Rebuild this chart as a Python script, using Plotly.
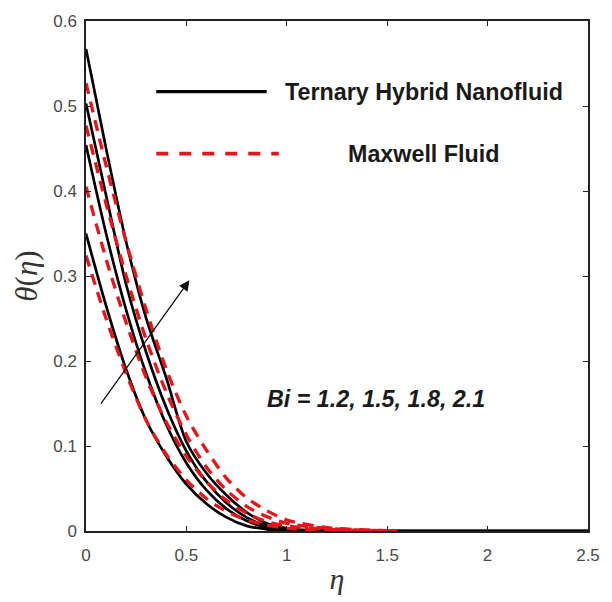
import plotly.graph_objects as go

eta = [0, 0.1, 0.2, 0.3, 0.4, 0.5, 0.6, 0.7, 0.8, 0.9, 1.0, 1.2, 1.5, 2.0, 2.5]

# Ternary hybrid nanofluid (solid black), Bi = 1.2, 1.5, 1.8, 2.1
thnf_bi12 = [0.350, 0.265, 0.190, 0.130, 0.088, 0.055, 0.032, 0.016, 0.006, 0.002, 0.000, 0.0, 0.0, 0.0, 0.0]
thnf_bi15 = [0.454, 0.350, 0.260, 0.185, 0.125, 0.080, 0.048, 0.026, 0.012, 0.004, 0.001, 0.0, 0.0, 0.0, 0.0]
thnf_bi18 = [0.503, 0.395, 0.290, 0.210, 0.145, 0.094, 0.058, 0.033, 0.016, 0.006, 0.002, 0.0, 0.0, 0.0, 0.0]
thnf_bi21 = [0.567, 0.450, 0.340, 0.250, 0.180, 0.105, 0.068, 0.042, 0.022, 0.009, 0.003, 0.0, 0.0, 0.0, 0.0]

eta_mx = [0, 0.1, 0.2, 0.3, 0.4, 0.5, 0.6, 0.7, 0.8, 0.9, 1.0, 1.2, 1.55]
# Maxwell fluid (dashed red)
mx_bi12 = [0.324, 0.250, 0.185, 0.130, 0.090, 0.060, 0.038, 0.023, 0.013, 0.007, 0.003, 0.001, 0.0]
mx_bi15 = [0.405, 0.320, 0.245, 0.180, 0.128, 0.088, 0.058, 0.036, 0.021, 0.011, 0.006, 0.002, 0.0]
mx_bi18 = [0.477, 0.385, 0.300, 0.225, 0.163, 0.113, 0.075, 0.048, 0.029, 0.017, 0.009, 0.003, 0.0]
mx_bi21 = [0.527, 0.430, 0.340, 0.260, 0.190, 0.135, 0.095, 0.062, 0.039, 0.024, 0.013, 0.004, 0.0]

x_ticks = [0, 0.5, 1, 1.5, 2, 2.5]
x_tick_text = ["0", "0.5", "1", "1.5", "2", "2.5"]
y_ticks = [0, 0.1, 0.2, 0.3, 0.4, 0.5, 0.6]
y_tick_text = ["0", "0.1", "0.2", "0.3", "0.4", "0.5", "0.6"]

legend_labels = ["Ternary Hybrid Nanofluid", "Maxwell Fluid"]
bi_label = "<b><i>Bi = 1.2, 1.5, 1.8, 2.1</i></b>"

fig = go.Figure()

for ys in [thnf_bi12, thnf_bi15, thnf_bi18, thnf_bi21]:
    fig.add_trace(go.Scatter(x=eta, y=ys, mode="lines",
                             line=dict(color="black", width=2.7, shape="spline", smoothing=0.8),
                             showlegend=False, hoverinfo="skip"))

for ys in [mx_bi12, mx_bi15, mx_bi18, mx_bi21]:
    fig.add_trace(go.Scatter(x=eta_mx, y=ys, mode="lines",
                             line=dict(color="#e8141c", width=3.3, dash="11px,8px", shape="spline", smoothing=0.8),
                             showlegend=False, hoverinfo="skip"))

# legend samples drawn inside the axes
fig.add_trace(go.Scatter(x=[0.35, 0.90], y=[0.517, 0.517], mode="lines",
                         line=dict(color="black", width=3.2), showlegend=False, hoverinfo="skip"))
fig.add_trace(go.Scatter(x=[0.35, 0.96], y=[0.444, 0.444], mode="lines",
                         line=dict(color="#e8141c", width=3.6, dash="12px,11px"), showlegend=False, hoverinfo="skip"))

font_text = dict(family="Liberation Sans, Arial", size=23.3, color="#1a1a1a")
fig.add_annotation(x=0.98, y=0.517, text="<b>" + legend_labels[0] + "</b>", showarrow=False,
                   xanchor="left", yanchor="middle", font=font_text)
fig.add_annotation(x=1.295, y=0.444, text="<b>" + legend_labels[1] + "</b>", showarrow=False,
                   xanchor="left", yanchor="middle", font=font_text)
fig.add_annotation(x=0.89, y=0.155, text=bi_label, showarrow=False,
                   xanchor="left", yanchor="middle", font=font_text)

# arrow
fig.add_annotation(x=0.515, y=0.295, ax=0.069, ay=0.148, xref="x", yref="y", axref="x", ayref="y",
                   text="", showarrow=True, arrowhead=2, arrowsize=1.6, arrowwidth=1.3, arrowcolor="#111")

axis_common = dict(showline=True, linecolor="#222", linewidth=1.5, mirror="ticks",
                   ticks="inside", ticklen=5, tickwidth=1, tickcolor="#222",
                   showgrid=False, zeroline=False,
                   tickfont=dict(family="Liberation Sans, Arial", size=17, color="#4a4a4a"))

fig.update_xaxes(range=[0, 2.5], tickvals=x_ticks, ticktext=x_tick_text, ticklabelstandoff=8,
                 title=dict(text="<i>η</i>", font=dict(family="Liberation Serif, Times New Roman", size=30, color="#333"),
                            standoff=4),
                 **axis_common)
fig.update_yaxes(range=[0, 0.6], tickvals=y_ticks, ticktext=y_tick_text, ticklabelstandoff=4,
                 title=dict(text="<i>θ</i>(<i>η</i>)", font=dict(family="Liberation Serif, Times New Roman", size=31, color="#333"),
                            standoff=6),
                 **axis_common)

fig.update_layout(width=612, height=602, margin=dict(l=86, r=21, t=14, b=71),
                  paper_bgcolor="white", plot_bgcolor="white", showlegend=False)

fig.write_html("out.html")
